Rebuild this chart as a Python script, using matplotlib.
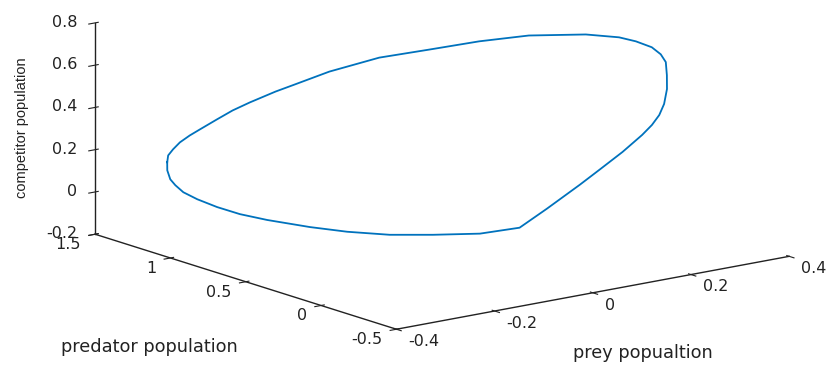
import matplotlib
matplotlib.use("Agg")
import matplotlib.pyplot as plt

# Limit cycle (prey, predator, competitor)
prey = [-0.339, -0.334, -0.321, -0.307, -0.287, -0.266, -0.238, -0.212, -0.183, -0.143,
        -0.116, -0.064, 0.007, 0.072, 0.137, 0.195, 0.262, 0.299, 0.318, 0.335,
        0.341, 0.339, 0.332, 0.323, 0.311, 0.295, 0.277, 0.254, 0.208, 0.161,
        0.127, 0.072, 0.035, -0.015, -0.074, -0.125, -0.175, -0.214, -0.258, -0.289,
        -0.311, -0.333, -0.343, -0.347, -0.345, -0.345]
predator = [1.22, 1.23, 1.24, 1.24, 1.24, 1.24, 1.22, 1.20, 1.18, 1.14,
            1.10, 1.04, 0.94, 0.82, 0.70, 0.56, 0.40, 0.30, 0.25, 0.20,
            0.16, 0.12, 0.09, 0.06, 0.04, 0.02, 0.01, 0.00, -0.02, -0.02,
            0.00, 0.04, 0.10, 0.20, 0.32, 0.44, 0.56, 0.68, 0.82, 0.90,
            0.98, 1.04, 1.10, 1.14, 1.18, 1.20]
competitor = [0.177, 0.205, 0.226, 0.253, 0.277, 0.297, 0.336, 0.372, 0.402, 0.445,
              0.476, 0.528, 0.586, 0.623, 0.661, 0.695, 0.707, 0.700, 0.684, 0.660,
              0.633, 0.606, 0.554, 0.499, 0.438, 0.397, 0.360, 0.325, 0.269, 0.205,
              0.144, 0.045, -0.042, -0.071, -0.078, -0.083, -0.074, -0.062, -0.041, -0.018,
              0.007, 0.040, 0.064, 0.090, 0.108, 0.146]

xticks = [-0.4, -0.2, 0, 0.2, 0.4]
yticks = [-0.5, 0, 0.5, 1, 1.5]
zticks = [-0.2, 0, 0.2, 0.4, 0.6, 0.8]
xticklabels = ['-0.4', '-0.2', '0', '0.2', '0.4']
yticklabels = ['-0.5', '0', '0.5', '1', '1.5']
zticklabels = ['-0.2', '0', '0.2', '0.4', '0.6', '0.8']

plt.rcParams['font.family'] = ['DejaVu Sans']

fig = plt.figure(figsize=(8.28, 3.65), dpi=100)
ax = fig.add_axes([0.028, 0.104, 1, 1], projection='3d')
ax.set_proj_type('ortho')
ax.view_init(elev=14, azim=-127.5)
ax.set_box_aspect((1, 1, 0.44), zoom=1.95)

line, = ax.plot(prey + [prey[0]], predator + [predator[0]], competitor + [competitor[0]],
                color='#0072BD', lw=1.3)
line.set_clip_on(False)

ax.set_xlim(-0.4, 0.4, view_margin=0)
ax.set_ylim(-0.5, 1.5, view_margin=0)
ax.set_zlim(-0.2, 0.8, view_margin=0)
ax.set_xticks(xticks)
ax.set_yticks(yticks)
ax.set_zticks(zticks)
ax.grid(False)
for axis in (ax.xaxis, ax.yaxis, ax.zaxis):
    axis.pane.set_visible(False)
    axis.line.set_color('#222222')
    axis.line.set_linewidth(1.0)
ax.tick_params(labelsize=11.5, colors='#222222')
ax.xaxis.set_tick_params(pad=-2.5)
ax.yaxis.set_tick_params(pad=-3.0)
ax.zaxis.set_tick_params(pad=-4.5)
ax.set_xticklabels(xticklabels, ha='left', va='center')
ax.set_yticklabels(yticklabels, ha='right', va='center')
ax.set_zticklabels(zticklabels, ha='right', va='center')
for t in ax.get_xticklabels() + ax.get_yticklabels() + ax.get_zticklabels():
    t.set_clip_on(False)

fig.text(0.027, 0.65, 'competitor population', rotation=90, fontsize=10.5,
         family='Liberation Sans', ha='center', va='center', color='#222222')
fig.text(0.181, 0.049, 'predator population', fontsize=12.8, ha='center', va='center', color='#222222')
fig.text(0.777, 0.033, 'prey popualtion', fontsize=12.8, ha='center', va='center', color='#222222')

fig.savefig('out.png', dpi=100)
